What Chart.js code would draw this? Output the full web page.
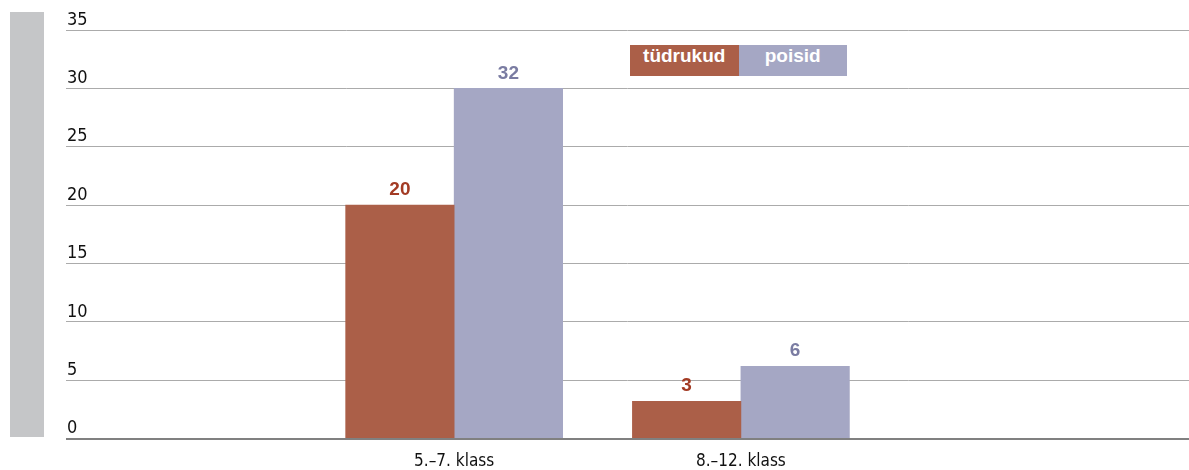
<!DOCTYPE html>
<html>
<head>
<meta charset="utf-8">
<script src="https://cdn.jsdelivr.net/npm/chart.js@4"></script>
<style>
  body { margin: 0; background: #fff; }
  #wrap { position: relative; width: 1189px; height: 470px; }
  #sidebar { position: absolute; left: 10px; top: 12px; width: 34px; height: 425px; background: #c5c6c8; }
  #legend { position: absolute; left: 630px; top: 45px; display: flex; }
  #legend span { display: block; width: 108.5px; height: 31px; line-height: 32px; text-align: center;
    color: #fff; font: bold 19px "Liberation Sans", Arial, sans-serif; }
  canvas { position: absolute; left: 0; top: 0; }
</style>
</head>
<body>
<div id="wrap">
  <div id="sidebar"></div>
  <canvas id="chart" width="1189" height="470"></canvas>
  <div id="legend"></div>
</div>
<script>
// categories and values
const categories = ['5.–7. klass', '8.–12. klass'];
const seriesNames = ['tüdrukud', 'poisid'];
const girls = [20, 3.2];
const boys = [30, 6.2];
// value labels as printed above the bars
const girlsLabels = ['20', '3'];
const boysLabels = ['32', '6'];

const barColors = ['#ab5f48', '#a5a7c4'];
const labelColors = ['#a33b24', '#7a7ca2'];
const valueLabels = [girlsLabels, boysLabels];
const fontFamily = '"Liberation Sans Narrow", "DejaVu Sans Condensed", sans-serif';

// legend as coloured boxes
const legend = document.getElementById('legend');
seriesNames.forEach((name, i) => {
    const s = document.createElement('span');
    s.textContent = name;
    s.style.background = barColors[i];
    legend.appendChild(s);
});

const toPoints = vals => vals.map((v, i) => ({ x: i, y: v }));

const barLabels = {
    id: 'barLabels',
    afterDatasetsDraw(chart) {
        const ctx = chart.ctx;
        ctx.save();
        ctx.font = 'bold 19px "Liberation Sans", Arial, sans-serif';
        ctx.textAlign = 'center';
        ctx.textBaseline = 'middle';
        chart.data.datasets.forEach((ds, d) => {
            const meta = chart.getDatasetMeta(d);
            ctx.fillStyle = labelColors[d];
            meta.data.forEach((bar, i) => {
                ctx.fillText(valueLabels[d][i], bar.x, bar.y - 15);
            });
        });
        ctx.restore();
    }
};

new Chart(document.getElementById('chart'), {
    type: 'bar',
    data: {
        datasets: [
            { label: seriesNames[0], data: toPoints(girls), backgroundColor: barColors[0] },
            { label: seriesNames[1], data: toPoints(boys), backgroundColor: barColors[1] }
        ]
    },
    options: {
        responsive: false,
        animation: false,
        barThickness: 108.5,
        layout: { padding: { left: 64, top: 30, right: 0, bottom: -2 } },
        plugins: { legend: { display: false }, tooltip: { enabled: false } },
        scales: {
            x: {
                type: 'linear',
                offset: false,
                min: -1.3537,
                max: 2.5627,
                afterBuildTicks: axis => { axis.ticks = categories.map((c, i) => ({ value: i })); },
                grid: { display: false, drawTicks: true, tickLength: 13 },
                border: { display: false },
                ticks: {
                    padding: 0,
                    maxRotation: 0,
                    color: '#111',
                    font: { family: fontFamily, size: 17 },
                    callback: v => categories[v] ?? ''
                }
            },
            y: {
                min: 0,
                max: 35,
                grid: {
                    drawTicks: false,
                    color: ctx => ctx.tick && ctx.tick.value === 0 ? '#808080' : '#ababab',
                    lineWidth: ctx => ctx.tick && ctx.tick.value === 0 ? 2 : 1
                },
                border: { display: false },
                ticks: {
                    stepSize: 5,
                    mirror: true,
                    padding: 1,
                    labelOffset: -10,
                    color: '#111',
                    font: { family: fontFamily, size: 18 }
                }
            }
        }
    },
    plugins: [barLabels]
});
</script>
</body>
</html>
